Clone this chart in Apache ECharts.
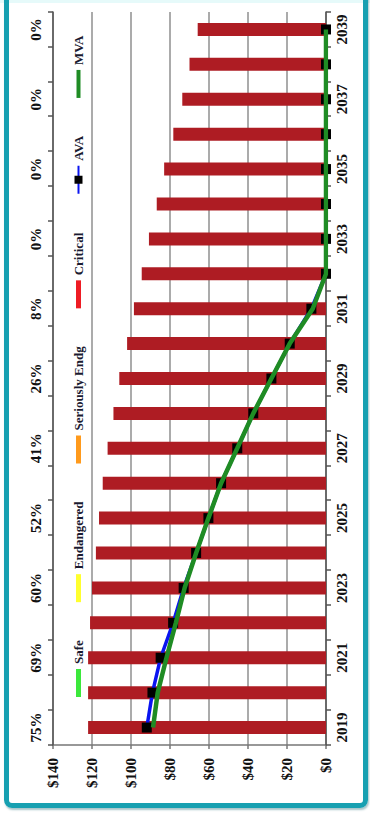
<!DOCTYPE html>
<html>
<head>
<meta charset="utf-8">
<script src="https://cdn.jsdelivr.net/npm/echarts@6/dist/echarts.min.js"></script>
<style>
  html, body { margin: 0; padding: 0; background: #ffffff; width: 370px; height: 816px; overflow: hidden; }
  #topband { position: absolute; left: 0; top: 0; width: 370px; height: 3px; background: #e6fafa; }
  #frame {
    position: absolute; left: 4px; top: -10px;
    width: 354px; height: 808px;
    border: 5px solid #17a0b1; border-radius: 8px;
    box-shadow: 1px 2px 2px rgba(0, 90, 100, 0.35);
  }
  #chart {
    position: absolute; left: 0; top: 0;
    width: 816px; height: 370px;
    transform-origin: 0 0;
    transform: translate(0, 816px) rotate(-90deg);
  }
</style>
</head>
<body>
<div id="topband"></div>
<div id="frame"></div>
<div id="chart"></div>
<script>
// Funding outlook by year: total bars with AVA / MVA balance lines
const years = ['2019','2020','2021','2022','2023','2024','2025','2026','2027','2028','2029',
               '2030','2031','2032','2033','2034','2035','2036','2037','2038','2039'];
const totals = [122, 122, 122, 121, 120, 118, 116.4, 114.5, 112, 109, 106,
                102, 98.5, 94.5, 90.8, 86.8, 83, 78.3, 73.7, 70, 65.8];
const ava = [91.9, 89, 84.8, 78.4, 73, 66.6, 60.3, 53.8, 45.5, 37.3, 28,
             18.6, 7.5, 0, 0, 0, 0, 0, 0, 0, 0];
const mva = [88.7, 86.3, 81.8, 77, 72.5, 66.6, 60.3, 53.8, 45.5, 37.3, 28,
             18.6, 6.8, 0, 0, 0, 0, 0, 0, 0, 0];
// funded ratio shown above every other year
const pctLabels = ['75%', '69%', '60%', '52%', '41%', '26%', '8%', '0%', '0%', '0%', '0%'];
const valueTicks = { min: 0, max: 140, step: 20 };

const serif = '"Liberation Serif", "Times New Roman", serif';
const rectIcon = 'path://M0,0H28V5H0Z';

const chart = echarts.init(document.getElementById('chart'), null, { renderer: 'svg' });

const labelFont = { fontFamily: serif, fontWeight: 'bold', fontSize: 15, color: '#111' };

chart.setOption({
  animation: false,
  backgroundColor: 'transparent',
  grid: [
    { left: 71, right: 12, top: 53, bottom: 44 },
    { left: 71, right: 12, top: 53, bottom: 44 }
  ],
  legend: {
    left: 114, top: 67,
    itemWidth: 28, itemHeight: 10, itemGap: 38,
    symbolKeepAspect: true,
    textStyle: { fontFamily: serif, fontWeight: 'bold', fontSize: 13, color: '#1a1a30' },
    data: [
      { name: 'Safe', icon: rectIcon },
      { name: 'Endangered', icon: rectIcon },
      { name: 'Seriously Endg', icon: rectIcon },
      { name: 'Critical', icon: rectIcon },
      { name: 'AVA' },
      { name: 'MVA', icon: 'path://M0,0H28V4H0Z' }
    ]
  },
  xAxis: [
    {
      type: 'category', data: years, gridIndex: 0, position: 'bottom',
      axisLine: { lineStyle: { color: '#555', width: 1.5 } },
      axisTick: { show: false },
      axisLabel: Object.assign({ interval: 1, margin: 8 }, labelFont),
      splitLine: { show: false }
    },
    {
      type: 'category', data: years, gridIndex: 0, position: 'top',
      axisLine: { lineStyle: { color: '#555', width: 1.5 } },
      axisTick: { show: true, interval: 0, length: 5, lineStyle: { color: '#555', width: 1.5 } },
      axisLabel: Object.assign({
        interval: 1, margin: 10,
        formatter: (v, idx) => pctLabels[idx / 2]
      }, labelFont)
    },
    {
      type: 'category', data: years, gridIndex: 1, position: 'top',
      axisLine: { show: false },
      axisTick: { show: true, inside: true, interval: 0, length: 5, lineStyle: { color: '#555', width: 1.5 } },
      axisLabel: { show: false }
    }
  ],
  yAxis: [
    {
      type: 'value', gridIndex: 0, position: 'left',
      min: valueTicks.min, max: valueTicks.max, interval: valueTicks.step,
      axisLine: { show: true, lineStyle: { color: '#777', width: 1.5 } },
      axisTick: { show: true, length: 4, lineStyle: { color: '#777', width: 1.5 } },
      axisLabel: Object.assign({ margin: 13, formatter: v => '$' + v }, labelFont),
      splitLine: { lineStyle: { color: '#8f8f8f', width: 1.5 } }
    },
    {
      type: 'value', gridIndex: 1, min: valueTicks.min, max: valueTicks.max, show: false
    }
  ],
  series: [
    {
      name: 'Total', type: 'bar', data: totals, barWidth: 13,
      xAxisIndex: 0, yAxisIndex: 0,
      itemStyle: { color: '#ae1c23' }
    },
    { name: 'Safe', type: 'line', data: [], color: '#3be83b', itemStyle: { color: '#3be83b' } },
    { name: 'Endangered', type: 'line', data: [], color: '#ffff2e', itemStyle: { color: '#ffff2e' } },
    { name: 'Seriously Endg', type: 'line', data: [], color: '#ff9a1c', itemStyle: { color: '#ff9a1c' } },
    { name: 'Critical', type: 'line', data: [], color: '#ee1c24', itemStyle: { color: '#ee1c24' } },
    {
      name: 'AVA', type: 'line', data: ava, xAxisIndex: 0, yAxisIndex: 0,
      symbol: 'rect', symbolSize: 10, showAllSymbol: true, z: 3,
      lineStyle: { color: '#0a14f0', width: 3.5 },
      itemStyle: { color: '#000000' }
    },
    {
      // drawn above the AVA markers so they peek out on either side
      name: 'MVA', type: 'line', data: mva, xAxisIndex: 0, yAxisIndex: 0,
      symbol: 'none', color: '#1f8c24', z: 4,
      lineStyle: { color: '#1f8c24', width: 4.5 },
      itemStyle: { color: '#1f8c24' }
    }
  ]
});
</script>
</body>
</html>
